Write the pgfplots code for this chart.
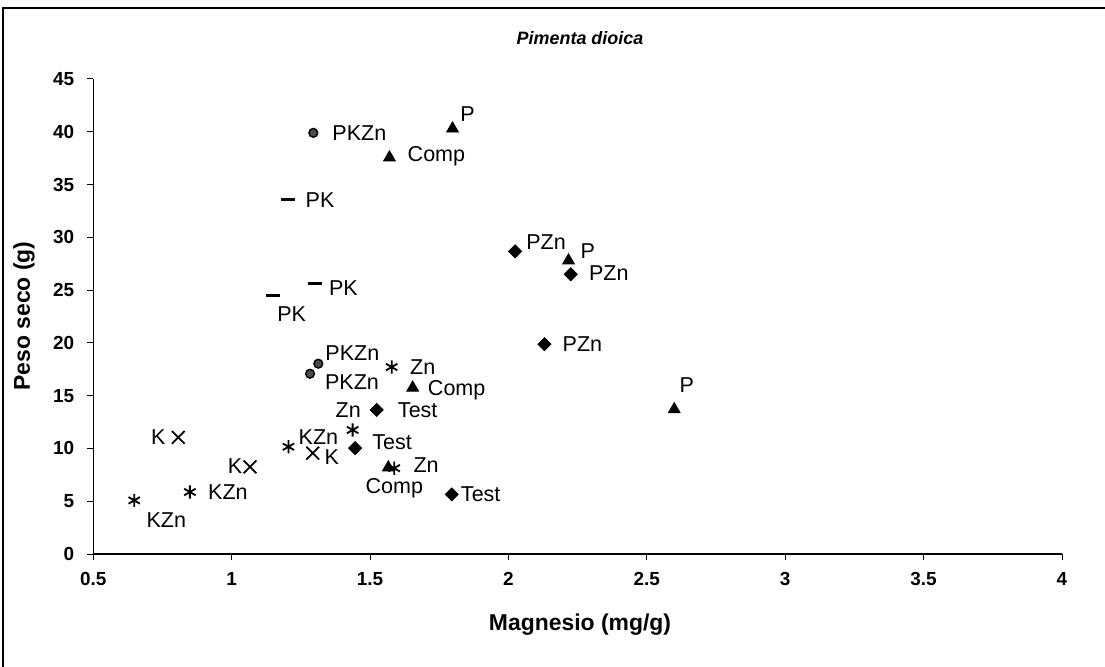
\documentclass[border=0pt]{standalone}
\usepackage{fontspec}
\setmainfont{Liberation Sans}
\usepackage{pgfplots}
\pgfplotsset{compat=1.18}
\usepackage{pgfplotstable}

% columns: x y (label offset dx dy in bp)
\pgfplotstableread{
x y lx ly
1.524 13.65 20.5 0
1.446 10.03 18.5 2.8
1.795 5.65 14.5 0
}\testdata
\pgfplotstableread{
x y lx ly
1.570 37.56 23.5 0.7
1.654 15.75 22 -1
1.566 8.19 3 -10.5
}\compdata
\pgfplotstableread{
x y lx ly
1.798 40.3 7.5 7.5
2.217 27.8 9.7 4.5
2.599 13.7 6.3 12
}\pdata
\pgfplotstableread{
x y lx ly
2.024 28.67 15.5 4.5
2.225 26.5 19 0.5
2.130 19.88 19 0
}\pzndata
\pgfplotstableread{
x y lx ly
1.205 33.58 15.8 -0.3
1.301 25.6 14.2 -2.2
1.148 24.5 9.5 -9.6
}\pkdata
\pgfplotstableread{
x y lx ly
1.295 39.9 23 0
1.283 17.08 21 -4.4
1.313 18.03 17 5.2
}\pkzndata
\pgfplotstableread{
x y lx ly
0.807 11.05 -10 0
1.066 8.25 -7.5 0.5
1.293 9.56 9.5 -1.8
}\kdata
\pgfplotstableread{
x y lx ly
0.648 5.08 16 -9.8
0.849 5.87 19 0
1.205 10.16 15 5
}\kzndata
\pgfplotstableread{
x y lx ly
1.578 17.71 15.5 0
1.437 11.75 -2.2 10
1.587 8.13 16 1.5
}\zndata

\pgfplotsset{
  lbl/.style={
    nodes near coords={#1},
    visualization depends on={\thisrow{lx}\as\mylx},
    visualization depends on={\thisrow{ly}\as\myly},
    every node near coord/.append style={anchor=center, xshift=\mylx bp, yshift=\myly bp,
      font=\fontsize{10.8}{12}\selectfont, inner sep=0pt, text=black},
  }
}

\begin{document}
\begin{tikzpicture}
\draw[line width=0.6bp] (1.5bp,0) -- (1.5bp,329.5bp) -- (552.5bp,329.5bp);
\begin{axis}[
  at={(46.65bp,56.5bp)}, anchor=south west,
  scale only axis, width=484.35bp, height=237.5bp,
  xmin=0.5, xmax=4, ymin=0, ymax=45,
  axis lines=left, axis line style={-, line width=0.6bp},
  xtick={0.5,1,1.5,2,2.5,3,3.5,4}, ytick={0,5,...,45},
  tick align=outside, major tick length=3bp,
  tick style={black, line width=0.5bp},
  /pgf/number format/assume math mode=true,
  xticklabel style={font=\bfseries\fontsize{9.5}{10}\selectfont, yshift=-2.5bp},
  yticklabel style={font=\bfseries\fontsize{9.5}{10}\selectfont, xshift=-3bp},
  clip=false,
]
\addplot[only marks, mark=square*, mark size=2.3bp, mark options={rotate=45, fill=black, draw=black}, lbl=Test] table[x=x,y=y] {\testdata};
\addplot[only marks, mark=square*, mark size=2.3bp, mark options={rotate=45, fill=black, draw=black}, lbl=PZn] table[x=x,y=y] {\pzndata};
\addplot[only marks, mark=triangle*, mark size=3.4bp, mark options={fill=black, draw=black}, lbl=Comp] table[x=x,y=y] {\compdata};
\addplot[only marks, mark=triangle*, mark size=3.4bp, mark options={fill=black, draw=black}, lbl=P] table[x=x,y=y] {\pdata};
\addplot[only marks, mark=x, mark size=4.5bp, mark options={draw=black, line width=0.9bp}, lbl=K] table[x=x,y=y] {\kdata};
\addplot[only marks, mark=asterisk, mark size=3.3bp, mark options={draw=black, line width=0.9bp}, lbl=KZn] table[x=x,y=y] {\kzndata};
\addplot[only marks, mark=asterisk, mark size=3.3bp, mark options={draw=black, line width=0.9bp}, lbl=Zn] table[x=x,y=y] {\zndata};
\addplot[only marks, mark=-, mark size=3.5bp, mark options={draw=black, line width=1.5bp}, lbl=PK] table[x=x,y=y] {\pkdata};
\addplot[only marks, mark=*, mark size=2.2bp, mark options={fill=black!70, draw=black, line width=0.7bp}, lbl=PKZn] table[x=x,y=y] {\pkzndata};
\end{axis}
\node[font=\bfseries\itshape\fontsize{9}{10}\selectfont] at (290bp,314.5bp) {Pimenta dioica};
\node[font=\bfseries\fontsize{11.5}{13}\selectfont] at (290bp,21bp) {Magnesio (mg/g)};
\node[font=\bfseries\fontsize{11.5}{13}\selectfont, rotate=90] at (12bp,175.5bp) {Peso seco (g)};
\pgfresetboundingbox
\useasboundingbox (0,0) rectangle (552.5bp,333.5bp);
\end{tikzpicture}
\end{document}
